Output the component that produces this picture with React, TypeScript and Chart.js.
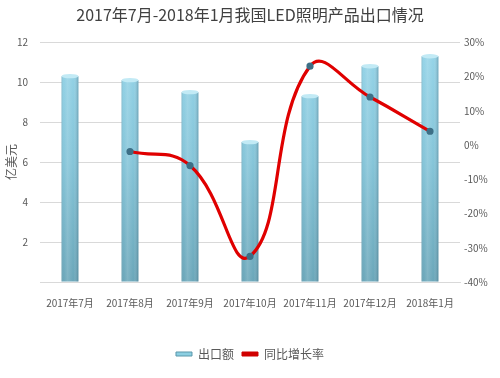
import React, { useEffect, useRef } from "react";
import { Chart, registerables } from "chart.js";

Chart.register(...registerables);

const categories = ["2017年7月", "2017年8月", "2017年9月", "2017年10月", "2017年11月", "2017年12月", "2018年1月"];
const exportValues = [10.3, 10.1, 9.5, 7.0, 9.3, 10.8, 11.3];
const growthValues: (number | null)[] = [null, -1.9, -6, -32.5, 23, 14, 4];
const titleText = "2017年7月-2018年1月我国LED照明产品出口情况";
const leftAxisTitle = "亿美元";
const barLabel = "出口额";
const lineLabel = "同比增长率";

const FONT = "'Noto Sans CJK SC', 'Noto Sans', sans-serif";

const cylinderPlugin = {
  id: "cylinder",
  afterDatasetDraw(chart: any, args: any) {
    if (args.index !== 0) return;
    const ctx = chart.ctx;
    const meta = chart.getDatasetMeta(0);
    meta.data.forEach((bar: any) => {
      const { x, y, base, width } = bar.getProps(["x", "y", "base", "width"], true);
      const l = x - width / 2;
      const r = x + width / 2;
      ctx.save();
      const g = ctx.createLinearGradient(l, 0, r, 0);
      g.addColorStop(0, "rgba(50,100,120,0.30)");
      g.addColorStop(0.12, "rgba(255,255,255,0.0)");
      g.addColorStop(0.35, "rgba(255,255,255,0.15)");
      g.addColorStop(0.7, "rgba(255,255,255,0.0)");
      g.addColorStop(1, "rgba(40,80,100,0.35)");
      ctx.fillStyle = g;
      ctx.fillRect(l, y, width, base - y);
      ctx.beginPath();
      ctx.ellipse(x, y, width / 2, 2.2, 0, 0, Math.PI * 2);
      ctx.fillStyle = "#c2eaf5";
      ctx.fill();
      ctx.restore();
    });
  },
};

export default function App() {
  const ref = useRef<HTMLCanvasElement>(null);
  useEffect(() => {
    document.body.style.margin = "0";
    const canvas = ref.current!;
    const chart = new Chart(canvas, {
      type: "bar",
      data: {
        labels: categories,
        datasets: [
          {
            type: "bar",
            label: barLabel,
            data: exportValues,
            yAxisID: "y",
            order: 2,
            barPercentage: 0.28,
            categoryPercentage: 1,
            backgroundColor: (c: any) => {
              const area = c.chart.chartArea;
              if (!area) return "#7cc3d9";
              const g = c.chart.ctx.createLinearGradient(0, area.top, 0, area.bottom);
              g.addColorStop(0, "#96d5e9");
              g.addColorStop(0.5, "#84c4d8");
              g.addColorStop(1, "#6aa6b9");
              return g;
            },
            borderWidth: 0,
          } as any,
          {
            type: "line",
            label: lineLabel,
            data: growthValues,
            yAxisID: "y1",
            order: 1,
            borderColor: "#e00000",
            borderWidth: 3.2,
            tension: 0.45,
            pointRadius: 2,
            pointBackgroundColor: "#3d6f86",
            pointBorderColor: "#3d6f86",
            fill: false,
            spanGaps: false,
          } as any,
        ],
      },
      options: {
        animation: false,
        responsive: false,
        layout: { padding: { bottom: 8, left: 0, right: 0, top: 0 } },
        plugins: {
          title: {
            display: true,
            text: titleText,
            color: "#404040",
            font: { family: FONT, size: 16, weight: "normal" },
            padding: { top: 5, bottom: 18 },
          },
          legend: {
            position: "bottom",
            labels: {
              color: "#595959",
              font: { family: FONT, size: 12 },
              boxWidth: 16,
              boxHeight: 4,
              padding: 8,
              generateLabels: () => [
                { text: barLabel, fillStyle: "#8ccfe2", strokeStyle: "#5b97aa", lineWidth: 1, datasetIndex: 0, fontColor: "#595959" } as any,
                { text: lineLabel, fillStyle: "#d00000", strokeStyle: "#d00000", lineWidth: 1, datasetIndex: 1, fontColor: "#595959" } as any,
              ],
            },
          },
          tooltip: { enabled: false },
        },
        scales: {
          x: {
            grid: { display: false },
            border: { display: true, color: "#d9d9d9" },
            ticks: { color: "#595959", font: { family: FONT, size: 10 }, padding: 7, maxRotation: 0, autoSkip: false },
            afterFit: (s: any) => { s.height = 58; },
          },
          y: {
            position: "left",
            min: 0,
            max: 12,
            grid: { color: "#d9d9d9", drawTicks: false },
            border: { display: false },
            ticks: {
              stepSize: 2,
              color: "#595959",
              font: { family: FONT, size: 10 },
              padding: 12,
              callback: (v: any) => (v === 0 ? "" : String(v)),
            },
            title: {
              display: true,
              text: leftAxisTitle,
              color: "#595959",
              font: { family: FONT, size: 12 },
              padding: { top: 4, bottom: 0 },
            },
            afterFit: (s: any) => { s.width = 40; },
          },
          y1: {
            position: "right",
            min: -40,
            max: 30,
            grid: { display: false, drawTicks: false },
            border: { display: false },
            ticks: {
              stepSize: 10,
              color: "#595959",
              font: { family: FONT, size: 10 },
              padding: 4,
              callback: (v: any) => v + "%",
            },
            afterFit: (s: any) => { s.width = 40; },
          },
        },
      } as any,
      plugins: [cylinderPlugin],
    });
    return () => chart.destroy();
  }, []);
  return <canvas ref={ref} width={500} height={378} style={{ display: "block" }} />;
}
